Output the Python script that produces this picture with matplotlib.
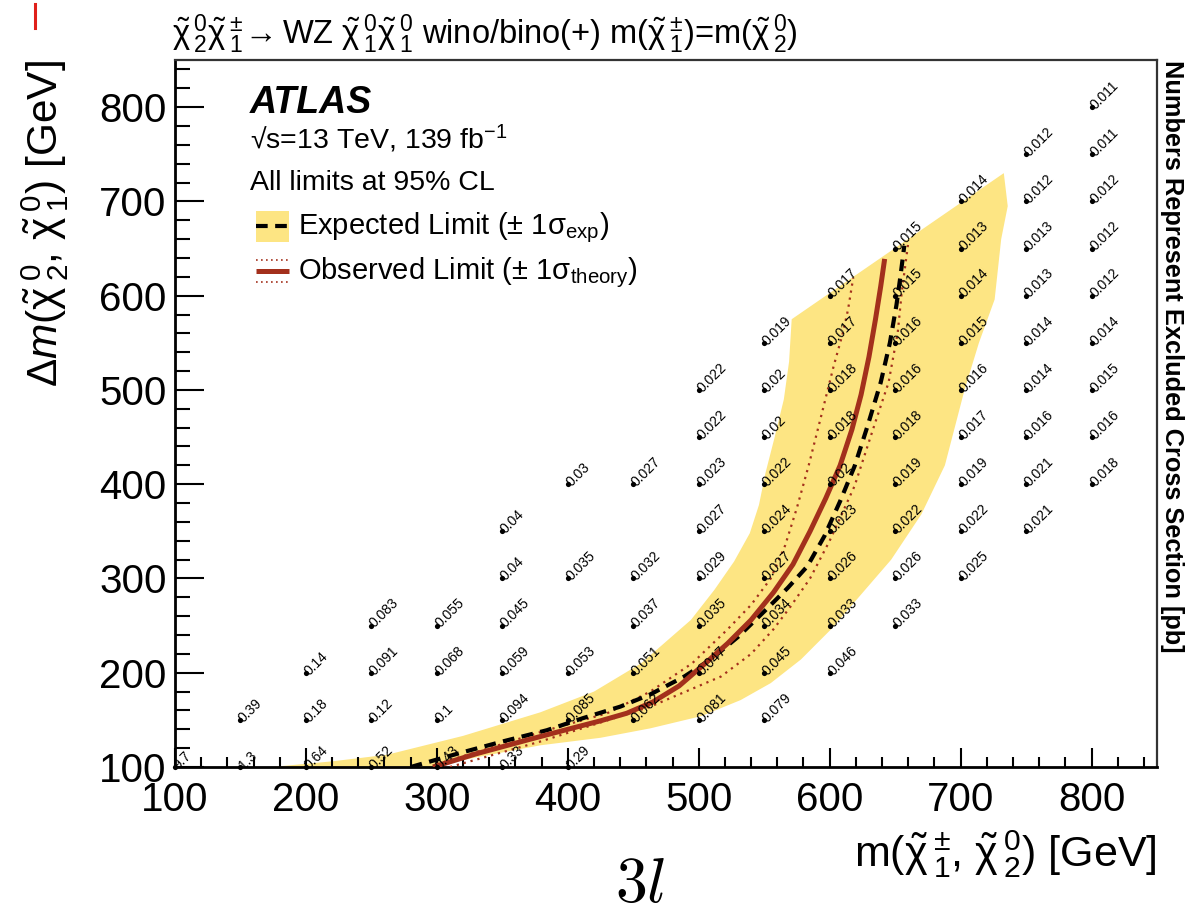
import matplotlib
matplotlib.use('Agg')
import matplotlib.pyplot as plt
from matplotlib.ticker import MultipleLocator
from matplotlib.patches import Rectangle
from matplotlib.lines import Line2D
import matplotlib.transforms as mtransforms

plt.rcParams['font.family'] = ['Liberation Sans', 'DejaVu Sans']
plt.rcParams['mathtext.fontset'] = 'custom'
plt.rcParams['mathtext.rm'] = 'Liberation Sans'
plt.rcParams['mathtext.it'] = 'Liberation Sans:italic'
plt.rcParams['mathtext.bf'] = 'Liberation Sans:bold'
plt.rcParams['mathtext.sf'] = 'Liberation Sans'

# ---------------- data ----------------
grid_x = [100,
          150, 150,
          200, 200, 200,
          250, 250, 250, 250,
          300, 300, 300, 300,
          350, 350, 350, 350, 350, 350,
          400, 400, 400, 400, 400,
          450, 450, 450, 450, 450,
          500, 500, 500, 500, 500, 500, 500, 500,
          550, 550, 550, 550, 550, 550, 550, 550, 550,
          600, 600, 600, 600, 600, 600, 600, 600, 600,
          650, 650, 650, 650, 650, 650, 650, 650, 650,
          700, 700, 700, 700, 700, 700, 700, 700, 700,
          750, 750, 750, 750, 750, 750, 750, 750, 750,
          800, 800, 800, 800, 800, 800, 800, 800, 800]
grid_y = [100,
          100, 150,
          100, 150, 200,
          100, 150, 200, 250,
          100, 150, 200, 250,
          100, 150, 200, 250, 300, 350,
          100, 150, 200, 300, 400,
          150, 200, 250, 300, 400,
          150, 200, 250, 300, 350, 400, 450, 500,
          150, 200, 250, 300, 350, 400, 450, 500, 550,
          200, 250, 300, 350, 400, 450, 500, 550, 600,
          250, 300, 350, 400, 450, 500, 550, 600, 650,
          300, 350, 400, 450, 500, 550, 600, 650, 700,
          350, 400, 450, 500, 550, 600, 650, 700, 750,
          400, 450, 500, 550, 600, 650, 700, 750, 800]
grid_xsec = [9.7,
             1.3, 0.39,
             0.64, 0.18, 0.14,
             0.52, 0.12, 0.091, 0.083,
             0.43, 0.1, 0.068, 0.055,
             0.33, 0.094, 0.059, 0.045, 0.04, 0.04,
             0.29, 0.085, 0.053, 0.035, 0.03,
             0.062, 0.051, 0.037, 0.032, 0.027,
             0.081, 0.047, 0.035, 0.029, 0.027, 0.023, 0.022, 0.022,
             0.079, 0.045, 0.034, 0.027, 0.024, 0.022, 0.02, 0.02, 0.019,
             0.046, 0.033, 0.026, 0.023, 0.02, 0.018, 0.018, 0.017, 0.017,
             0.033, 0.026, 0.022, 0.019, 0.018, 0.016, 0.016, 0.015, 0.015,
             0.025, 0.022, 0.019, 0.017, 0.016, 0.015, 0.014, 0.013, 0.014,
             0.021, 0.021, 0.016, 0.014, 0.014, 0.013, 0.013, 0.012, 0.012,
             0.018, 0.016, 0.015, 0.014, 0.012, 0.012, 0.012, 0.011, 0.011]

# expected +-1 sigma band (closed contour)
band_x = [174, 220, 262, 320, 379, 420, 456, 494, 512, 527, 539, 546, 551, 558, 565, 569, 571,
          733, 736, 731, 726, 714, 703, 688, 670, 647, 624, 601, 578, 555, 532, 502, 463, 425, 379, 333, 295]
band_y = [100, 106, 113, 133, 158, 180, 210, 256, 288, 318, 348, 378, 412, 450, 490, 530, 575,
          730, 695, 660, 596, 550, 500, 420, 368, 320, 283, 246, 214, 189, 171, 154, 141, 131, 123, 111, 100]

# expected limit
exp_x = [280, 318, 350, 384, 412, 440, 463, 489, 510, 530, 550, 568, 583, 596, 608, 619, 629, 639, 646, 651, 654, 657]
exp_y = [100, 115, 127, 139, 152, 164, 177, 196, 215, 238, 265, 290, 313, 345, 382, 419, 462, 508, 550, 590, 620, 653]

# observed limit
obs_x = [297, 330, 370, 400, 425, 445, 465, 485, 505, 522, 540, 557, 572, 585, 597, 608, 617, 624, 630, 635, 639, 642]
obs_y = [100, 114, 129, 140, 149, 157, 169, 186, 210, 231, 256, 285, 315, 350, 385, 420, 458, 495, 535, 575, 610, 639]

# observed +-1 sigma theory
thup_x = [300, 340, 379, 430, 463, 495, 522, 540, 555, 566, 575, 584, 594, 603, 610, 614, 618]
thup_y = [103, 120, 137, 157, 180, 210, 246, 272, 300, 335, 375, 420, 475, 525, 560, 585, 619]
thdn_x = [310, 379, 420, 463, 517, 540, 557, 570, 585, 600, 619, 634, 645, 652, 655, 660]
thdn_y = [100, 127, 145, 164, 196, 220, 246, 270, 300, 340, 398, 462, 508, 561, 603, 656]

x_ticks = [100, 200, 300, 400, 500, 600, 700, 800]
y_ticks = [100, 200, 300, 400, 500, 600, 700, 800]

# ---------------- figure ----------------
W, H = 1188, 915
fig = plt.figure(figsize=(W / 100, H / 100), dpi=100)

def fx(px):
    return px / W

def fy(py):
    return 1 - py / H

ax = fig.add_axes([fx(175), fy(767), fx(1157) - fx(175), fy(60) - fy(767)])
ax.set_xlim(100, 850)
ax.set_ylim(100, 850)

YEL = '#fde583'
RED = '#a3301c'

ax.fill(band_x, band_y, color=YEL, lw=0, zorder=1)
ax.plot(thup_x, thup_y, color=RED, lw=1.6, ls=(0, (1, 2.2)), zorder=3)
ax.plot(thdn_x, thdn_y, color=RED, lw=1.6, ls=(0, (1, 2.2)), zorder=3)
ax.plot(exp_x, exp_y, color='black', lw=3.0, ls=(0, (2.8, 1.8)), zorder=4)
ax.plot(obs_x, obs_y, color=RED, lw=3.6, solid_capstyle='butt', solid_joinstyle='round', zorder=5)

ax.scatter(grid_x, grid_y, s=14, color='black', zorder=6, clip_on=False, linewidths=0)
off = mtransforms.offset_copy(ax.transData, fig=fig, x=2.5, y=-2.0, units='points')
for gx, gy, v in zip(grid_x, grid_y, grid_xsec):
    ax.text(gx, gy, '{:g}'.format(v), transform=off, rotation=45, rotation_mode='anchor',
            ha='left', va='baseline', fontsize=10, zorder=7, clip_on=True)

ax.set_xticks(x_ticks)
ax.set_yticks(y_ticks)
ax.xaxis.set_minor_locator(MultipleLocator(20))
ax.yaxis.set_minor_locator(MultipleLocator(20))
ax.tick_params(axis='both', which='both', direction='in', top=False, right=False, width=1.5,
               labelsize=29)
ax.tick_params(axis='y', which='major', length=21, pad=6)
ax.tick_params(axis='y', which='minor', length=10.5)
ax.tick_params(axis='x', which='major', length=14, pad=10)
ax.tick_params(axis='x', which='minor', length=7)
for s in ['left', 'bottom']:
    ax.spines[s].set_linewidth(2.0)
for s in ['top', 'right']:
    ax.spines[s].set_linewidth(1.6)
    ax.spines[s].set_color('#333333')

# ---------------- texts ----------------
chi = r'\tilde{\mathrm{\chi}}\,{}'
fig.text(fx(172), fy(44),
         r'$%s^{0}_{2}%s^{\pm}_{1}\!\rightarrow$WZ $%s^{0}_{1}%s^{0}_{1}$ wino/bino(+) m($%s^{\pm}_{1}$)=m($%s^{0}_{2}$)'
         % (chi, chi, chi, chi, chi, chi), fontsize=23.5, ha='left', va='baseline')

fig.text(fx(1157), fy(866), r'm($%s^{\pm}_{1}$, $%s^{0}_{2}$) [GeV]' % (chi, chi),
         fontsize=31, ha='right', va='baseline')
fig.text(fx(45), fy(60), r'$\Delta m$($%s^{0}_{2}$, $%s^{0}_{1}$) [GeV]' % (chi, chi),
         fontsize=30.5, rotation=90, ha='center', va='top')
fig.text(fx(1172), fy(60), 'Numbers Represent Excluded Cross Section [pb]', fontsize=18.3,
         fontweight='bold', rotation=-90, ha='center', va='top')
fig.text(fx(640), fy(902), r'$3l$', fontsize=46, ha='center', va='baseline', math_fontfamily='cm')

fig.text(fx(250), fy(113), 'ATLAS', fontsize=27, fontweight='bold', style='italic', ha='left', va='baseline')
fig.text(fx(250), fy(149), '\u221as=13 TeV, 139 fb$^{-1}$', fontsize=20.5, ha='left', va='baseline')
fig.text(fx(250), fy(190), 'All limits at 95% CL', fontsize=20.5, ha='left', va='baseline')

# legend
fig.patches.append(Rectangle((fx(256), fy(242)), fx(289) - fx(256), fy(211) - fy(242),
                             transform=fig.transFigure, color=YEL, lw=0))
fig.lines.append(Line2D([fx(256), fx(289)], [fy(226), fy(226)], transform=fig.transFigure,
                        color='black', lw=3.0, ls=(0, (2.8, 1.8))))
fig.lines.append(Line2D([fx(256), fx(289)], [fy(271), fy(271)], transform=fig.transFigure,
                        color=RED, lw=3.6, solid_capstyle='butt'))
for yy in (260, 282):
    fig.lines.append(Line2D([fx(256), fx(289)], [fy(yy), fy(yy)], transform=fig.transFigure,
                            color=RED, lw=1.2, ls=(0, (1, 2))))
fig.text(fx(298), fy(234), r'Expected Limit ($\pm$ 1$\mathrm{\sigma}_{\mathrm{exp}}$)', fontsize=21,
         ha='left', va='baseline')
fig.text(fx(298), fy(279), r'Observed Limit ($\pm$ 1$\mathrm{\sigma}_{\mathrm{theory}}$)', fontsize=21,
         ha='left', va='baseline')

# small red mark in the corner
fig.lines.append(Line2D([fx(35), fx(35)], [fy(4), fy(28)], transform=fig.transFigure,
                        color='#e0201a', lw=2.2))

fig.savefig('out.png', dpi=100)
